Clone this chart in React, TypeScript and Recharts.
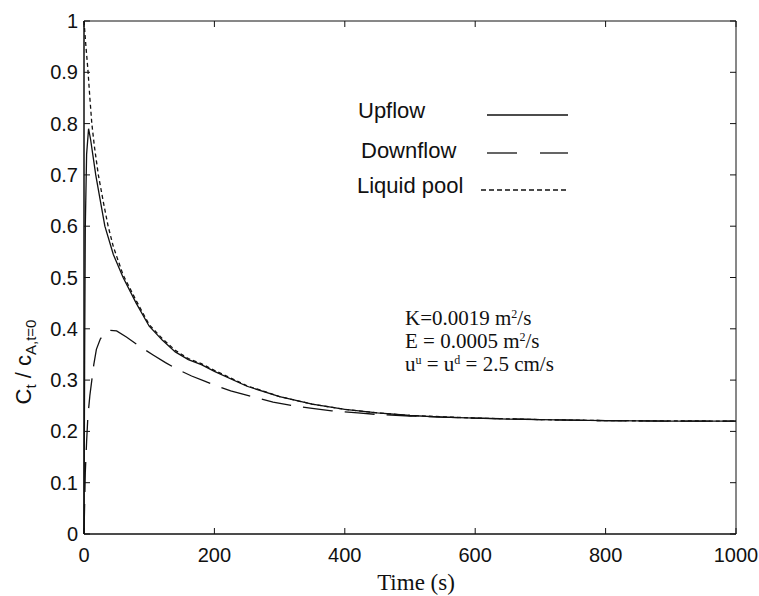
import { CartesianGrid, Line, LineChart, XAxis, YAxis } from 'recharts';

// time axis (s) and normalised concentration ticks
const timeTicks = [0, 200, 400, 600, 800, 1000];
const valueTicks = [0, 0.1, 0.2, 0.3, 0.4, 0.5, 0.6, 0.7, 0.8, 0.9, 1];

// Upflow (solid)
const upflowTime = [0, 1, 2, 4, 7, 10, 14, 18, 25, 32, 45, 60, 80, 100, 120, 140, 160, 180, 200, 250, 300, 350, 400, 450, 500, 550, 600, 650, 700, 800, 900, 1000];
const upflowValue = [0, 0.35, 0.6, 0.74, 0.79, 0.77, 0.735, 0.7, 0.65, 0.6, 0.545, 0.5, 0.45, 0.405, 0.378, 0.355, 0.34, 0.33, 0.317, 0.288, 0.268, 0.253, 0.243, 0.236, 0.231, 0.228, 0.226, 0.224, 0.223, 0.221, 0.22, 0.22];

// Downflow (long dashes)
const downflowTime = [0, 1, 2, 4, 6, 9, 12, 15, 19, 25, 32, 40, 50, 65, 85, 106, 125, 145, 165, 185, 205, 225, 245, 270, 290, 320, 350, 380, 420, 450, 500, 550, 600, 700, 800, 900, 1000];
const downflowValue = [0, 0.06, 0.12, 0.18, 0.23, 0.27, 0.3, 0.33, 0.36, 0.38, 0.392, 0.397, 0.396, 0.384, 0.366, 0.349, 0.334, 0.32, 0.308, 0.298, 0.288, 0.279, 0.272, 0.264, 0.257, 0.25, 0.245, 0.24, 0.236, 0.233, 0.23, 0.228, 0.226, 0.223, 0.221, 0.22, 0.22];

// Liquid pool (short dashes)
const poolTime = [0, 3, 6, 9, 12, 16, 22, 30, 37, 45, 60, 80, 100, 120, 140, 160, 180, 200, 250, 300, 350, 400, 450, 500, 600, 700, 800, 1000];
const poolValue = [1, 0.95, 0.905, 0.85, 0.8, 0.755, 0.7, 0.645, 0.6, 0.56, 0.505, 0.455, 0.408, 0.381, 0.358, 0.342, 0.332, 0.319, 0.289, 0.268, 0.253, 0.243, 0.236, 0.231, 0.226, 0.223, 0.221, 0.22];

const toPoints = (ts: number[], vs: number[]) => ts.map((t, i) => ({ t, v: vs[i] }));

const upflow = toPoints(upflowTime, upflowValue);
const downflow = toPoints(downflowTime, downflowValue);
const pool = toPoints(poolTime, poolValue);

const INK = '#111';
const SANS = '"Liberation Sans", Arial, sans-serif';
const SERIF = '"Liberation Serif", "Times New Roman", serif';

// plot box (matches chart margins / axis sizes below)
const BOX = { left: 84, right: 736, top: 21, bottom: 534 };
const TICK = 6;

// left axis: label + inward tick on both sides of the box
function ValueTick(props: any) {
    const { x, y, payload } = props;
    return (
        <g>
            <line x1={BOX.left} y1={y} x2={BOX.left + TICK} y2={y} stroke={INK} />
            <line x1={BOX.right - TICK} y1={y} x2={BOX.right} y2={y} stroke={INK} />
            <text x={x - 6} y={y} dy="0.35em" textAnchor="end" fontFamily={SANS} fontSize={20} fill={INK}>
                {payload.value}
            </text>
        </g>
    );
}

// bottom axis: label + inward tick on both top and bottom
function TimeTick(props: any) {
    const { x, payload } = props;
    return (
        <g>
            <line x1={x} y1={BOX.bottom} x2={x} y2={BOX.bottom - TICK} stroke={INK} />
            <line x1={x} y1={BOX.top} x2={x} y2={BOX.top + TICK} stroke={INK} />
            <text x={x} y={BOX.bottom + 28} textAnchor="middle" fontFamily={SANS} fontSize={20} fill={INK}>
                {payload.value}
            </text>
        </g>
    );
}

export default function App() {
    return (
        <div style={{ position: 'absolute', left: 0, top: 0, width: 759, height: 596, background: '#fff' }}>
            <LineChart width={759} height={596} margin={{ top: 21, right: 23, left: 0, bottom: 0 }}>
                <CartesianGrid horizontalValues={[0, 1]} verticalValues={[0, 1000]} stroke={INK} strokeDasharray="" />
                <XAxis
                    dataKey="t"
                    type="number"
                    domain={[0, 1000]}
                    ticks={timeTicks}
                    interval={0}
                    height={62}
                    tickSize={0}
                    tickMargin={0}
                    tickLine={false}
                    tick={<TimeTick />}
                    stroke={INK}
                    allowDuplicatedCategory={false}
                />
                <YAxis
                    type="number"
                    domain={[0, 1]}
                    ticks={valueTicks}
                    interval={0}
                    width={84}
                    tickSize={0}
                    tickMargin={0}
                    tickLine={false}
                    tick={<ValueTick />}
                    stroke={INK}
                />
                <Line data={upflow} dataKey="v" type="linear" stroke={INK} strokeWidth={1.3} dot={false} isAnimationActive={false} />
                <Line data={downflow} dataKey="v" type="linear" stroke={INK} strokeWidth={1.3} strokeDasharray="30 12" dot={false} isAnimationActive={false} />
                <Line data={pool} dataKey="v" type="linear" stroke={INK} strokeWidth={1.3} strokeDasharray="4 3" dot={false} isAnimationActive={false} />
            </LineChart>

            <svg width={759} height={596} style={{ position: 'absolute', left: 0, top: 0, pointerEvents: 'none' }}>
                {/* legend */}
                <g fontFamily={SANS} fontSize={22} fill={INK}>
                    <text x={358} y={118}>Upflow</text>
                    <text x={361} y={158}>Downflow</text>
                    <text x={357} y={193}>Liquid pool</text>
                </g>
                <g stroke={INK} strokeWidth={1.3}>
                    <line x1={487} y1={115} x2={568} y2={115} />
                    <line x1={487} y1={153} x2={517} y2={153} />
                    <line x1={540} y1={153} x2={568} y2={153} />
                    <line x1={481} y1={190} x2={568} y2={190} strokeDasharray="5 3" />
                </g>

                {/* model parameters */}
                <g fontFamily={SERIF} fontSize={21} fill={INK}>
                    <text x={405} y={325}>
                        K=0.0019 m<tspan dy={-7} fontSize={12}>2</tspan><tspan dy={7}>/s</tspan>
                    </text>
                    <text x={405} y={348}>
                        E = 0.0005 m<tspan dy={-7} fontSize={12}>2</tspan><tspan dy={7}>/s</tspan>
                    </text>
                    <text x={405} y={371}>
                        u<tspan dy={-7} fontSize={12}>u</tspan><tspan dy={7}> = u</tspan><tspan dy={-7} fontSize={12}>d</tspan><tspan dy={7}> = 2.5 cm/s</tspan>
                    </text>
                </g>

                {/* axis titles */}
                <text x={416} y={590} textAnchor="middle" fontFamily={SERIF} fontSize={23} fill={INK}>Time (s)</text>
                <text x={31} y={362} transform="rotate(-90 31 362)" textAnchor="middle" fontFamily={SANS} fontSize={22} fill={INK}>
                    C<tspan dy={5} fontSize={15}>t</tspan><tspan dy={-5}> / c</tspan><tspan dy={5} fontSize={15}>A,t=0</tspan>
                </text>
            </svg>
        </div>
    );
}
